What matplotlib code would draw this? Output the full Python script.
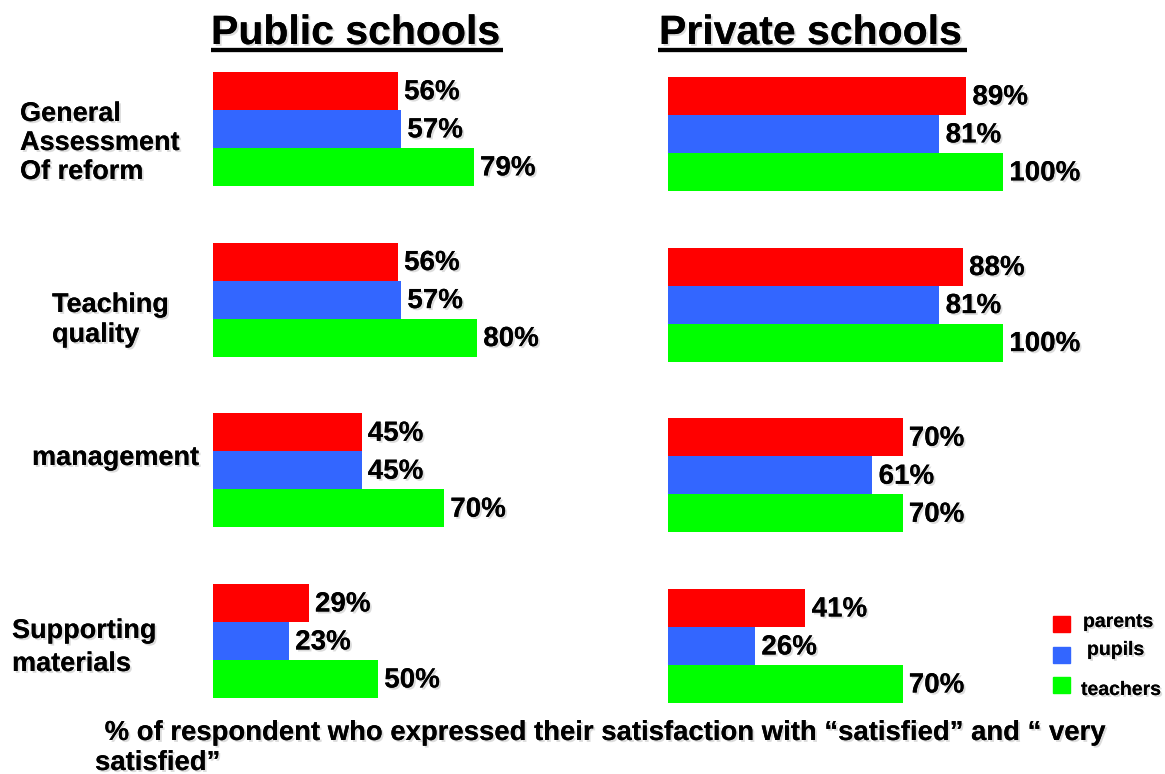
import matplotlib.pyplot as plt
import matplotlib.patheffects as pe
from matplotlib.patches import Rectangle
from matplotlib.lines import Line2D

# ── Data ───────────────────────────────────────────────────────────────────────
CATEGORIES = ["General\nAssessment\nOf reform", "Teaching\nquality",
              "management", "Supporting\nmaterials"]
SERIES = ["parents", "pupils", "teachers"]
COLORS = {"parents": "#FF0000", "pupils": "#3366FF", "teachers": "#00FF00"}

PUBLIC_PARENTS = [56, 56, 45, 29]
PUBLIC_PUPILS = [57, 57, 45, 23]
PUBLIC_TEACHERS = [79, 80, 70, 50]

PRIVATE_PARENTS = [89, 88, 70, 41]
PRIVATE_PUPILS = [81, 81, 61, 26]
PRIVATE_TEACHERS = [100, 100, 70, 70]

FOOTNOTE = (" % of respondent who expressed their satisfaction with \u201csatisfied\u201d "
            "and \u201c very\nsatisfied\u201d")

# ── Layout (pixels of a 1165x774 canvas) ───────────────────────────────────────
W, H = 1165, 774
STEP = 170.7          # px between groups
BAR_H = 38 / STEP     # bar height in group units
FONT = "Liberation Sans"
SHADOW = [pe.withSimplePatchShadow(offset=(1.4, -1.4), shadow_rgbFace="0.55", alpha=0.3),
          pe.Normal()]

plt.rcParams["font.family"] = [FONT, "DejaVu Sans"]
fig = plt.figure(figsize=(W / 100, H / 100), dpi=100)


def fx(x):
    return x / W


def fy(y):
    return 1 - y / H


def txt(x, y, s, size, **kw):
    return fig.text(fx(x), fy(y), s, fontsize=size, fontweight="bold",
                    va="baseline", path_effects=SHADOW, **kw)


def panel(x0, px_per_pct, blue_top, values):
    top = blue_top - 0.6 * STEP
    ax = fig.add_axes([fx(x0), fy(top + 4.2 * STEP), fx(100 * px_per_pct),
                       4.2 * STEP / H])
    ax.set_xlim(0, 100)
    ax.set_ylim(3.6, -0.6)
    ax.axis("off")
    for k, name in enumerate(SERIES):
        ypos = [i + (k - 1) * BAR_H for i in range(len(CATEGORIES))]
        ax.barh(ypos, values[k], height=BAR_H, color=COLORS[name],
                edgecolor="none")
        for yy, v in zip(ypos, values[k]):
            ax.annotate(f"{v}%", (v, yy), xytext=(4.5, -1),
                        textcoords="offset points", va="center", ha="left",
                        fontsize=20, fontweight="bold", clip_on=False,
                        path_effects=SHADOW, annotation_clip=False)
    return ax


panel(213, 3.3, 129, [PUBLIC_PARENTS, PUBLIC_PUPILS, PUBLIC_TEACHERS])
panel(668, 3.35, 134, [PRIVATE_PARENTS, PRIVATE_PUPILS, PRIVATE_TEACHERS])

# ── Titles with underline ──────────────────────────────────────────────────────
txt(211, 44, "Public schools", 29.5)
txt(659, 44, "Private schools", 29.5)
for xa, xb in [(211, 503), (658, 967)]:
    fig.add_artist(Line2D([fx(xa), fx(xb)], [fy(50), fy(50)], color="black",
                          linewidth=3, solid_capstyle="butt",
                          path_effects=SHADOW))

# ── Category labels ────────────────────────────────────────────────────────────
LABEL_POS = [(20, 121, 29), (52, 312, 30), (32, 465, 30), (12, 638, 33)]
for label, (lx, ly, ls) in zip(CATEGORIES, LABEL_POS):
    for j, line in enumerate(label.split("\n")):
        txt(lx, ly + j * ls, line, 19.5)

# ── Legend ─────────────────────────────────────────────────────────────────────
LEG_POS = [(616, 1083, 627), (647, 1087, 655), (677, 1081, 695)]
for name, (sq_y, tx, ty) in zip(SERIES, LEG_POS):
    fig.add_artist(Rectangle((fx(1053), fy(sq_y + 16)), 17 / W, 16 / H,
                             transform=fig.transFigure, color=COLORS[name]))
    txt(tx, ty, name, 14)

# ── Footnote ───────────────────────────────────────────────────────────────────
lines = FOOTNOTE.split("\n")
txt(97, 740, lines[0], 19.8)
txt(95, 770, lines[1], 19.8)

fig.savefig("out.png", dpi=100)
